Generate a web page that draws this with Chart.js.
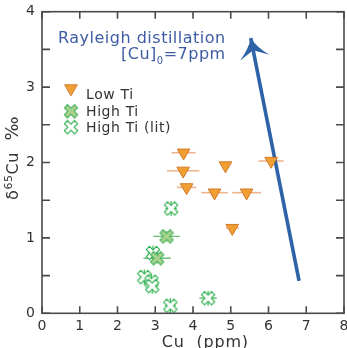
<!DOCTYPE html>
<html>
<head>
<meta charset="utf-8">
<script src="https://cdn.jsdelivr.net/npm/chart.js@4.4.1/dist/chart.umd.min.js"></script>
<style>
  html, body { margin: 0; padding: 0; background: #ffffff; }
  #wrap { position: relative; width: 347px; height: 348px; }
</style>
</head>
<body>
<div id="wrap"><canvas id="chart" width="347" height="348"></canvas></div>
<script>
// Low-Ti basalts: Cu (ppm), δ65Cu (‰) and Cu uncertainty
const lowTiCu     = [3.75, 3.74, 3.83, 4.86, 4.57, 5.42, 6.07, 5.04];
const lowTiD65Cu  = [2.13, 1.89, 1.67, 1.96, 1.60, 1.60, 2.02, 1.13];
const lowTiCuErr  = [0.32, 0.43, 0.26, 0.00, 0.35, 0.38, 0.33, 0.17];

// High-Ti basalts (this study)
const highTiCu    = [3.30, 3.05];
const highTiD65Cu = [1.02, 0.73];
const highTiCuErr = [0.35, 0.36];
const highTiD65Err = [0.07, 0.07];

// High-Ti basalts (literature)
const litCu       = [3.42, 2.94, 2.71, 2.90, 2.92, 3.40, 4.40];
const litD65Cu    = [1.39, 0.80, 0.48, 0.42, 0.36, 0.10, 0.20];
const litCuErr    = [0.15, 0.15, 0.12, 0.12, 0.12, 0.15, 0.23];
const litD65Err   = [0.10, 0.10, 0.10, 0.10, 0.10, 0.10, 0.10];

// Rayleigh distillation trend, [Cu]0 = 7 ppm (start, end)
const rayleighCu    = [6.81, 5.53];
const rayleighD65Cu = [0.43, 3.65];

const seriesNames = ['Low Ti', 'High Ti', 'High Ti (lit)'];
const xAxisTitle = 'Cu  (ppm)';
const trendTitle = 'Rayleigh distillation';

const FONT = '"DejaVu Sans", Verdana, sans-serif';
const INK = '#333333';
const FRAME = '#4a4a4a';
const TREND_BLUE = '#2f63a8';
const TEXT_BLUE = '#3d5ca3';

const toPoints = (xs, ys) => xs.map((x, i) => ({ x: x, y: ys[i] }));

// Thick "X" marker drawn to an offscreen canvas
function crossMarker(fill, stroke) {
  const size = 20, c = document.createElement('canvas');
  c.width = size; c.height = size;
  const g = c.getContext('2d');
  const a = 7.2, w = 2.2;
  g.translate(size / 2, size / 2);
  g.rotate(Math.PI / 4);
  const pts = [[-w,-a],[w,-a],[w,-w],[a,-w],[a,w],[w,w],[w,a],[-w,a],[-w,w],[-a,w],[-a,-w],[-w,-w]];
  g.beginPath();
  pts.forEach((p, i) => i ? g.lineTo(p[0], p[1]) : g.moveTo(p[0], p[1]));
  g.closePath();
  g.fillStyle = fill; g.fill();
  g.lineWidth = 1.1; g.strokeStyle = stroke; g.stroke();
  return c;
}
const highTiMarker = crossMarker('#a9d38f', '#45b05a');
const litMarker = crossMarker('#ffffff', '#2fb050');

// Error bars behind the markers
const errorBars = {
  id: 'errorBars',
  beforeDatasetsDraw(chart) {
    const ctx = chart.ctx, xs = chart.scales.x, ys = chart.scales.y;
    chart.data.datasets.forEach((ds, di) => {
      if (!ds.errorX && !ds.errorY) return;
      const meta = chart.getDatasetMeta(di);
      ctx.save();
      ctx.strokeStyle = ds.errorColor;
      ctx.lineWidth = ds.errorWidth || 1.5;
      ds.data.forEach((p, i) => {
        const px = meta.data[i].x, py = meta.data[i].y;
        ctx.beginPath();
        if (ds.errorX && ds.errorX[i] > 0) {
          ctx.moveTo(xs.getPixelForValue(p.x - ds.errorX[i]), py);
          ctx.lineTo(xs.getPixelForValue(p.x + ds.errorX[i]), py);
        }
        if (ds.errorY && ds.errorY[i] > 0) {
          ctx.moveTo(px, ys.getPixelForValue(p.y - ds.errorY[i]));
          ctx.lineTo(px, ys.getPixelForValue(p.y + ds.errorY[i]));
        }
        ctx.stroke();
      });
      ctx.restore();
    });
  }
};

// Arrowhead at the end of the Rayleigh trend
const arrowHead = {
  id: 'arrowHead',
  afterDatasetsDraw(chart) {
    const idx = chart.data.datasets.findIndex(d => d.isTrend);
    const pts = chart.getDatasetMeta(idx).data;
    const a = pts[pts.length - 2], b = pts[pts.length - 1];
    const dx = b.x - a.x, dy = b.y - a.y, len = Math.hypot(dx, dy);
    const ux = dx / len, uy = dy / len, nx = -uy, ny = ux;
    const P = (back, side) => [b.x - ux * back + nx * side, b.y - uy * back + ny * side];
    const tip = P(0, 0), l = P(20, -15), r = P(20, 15), notch = P(12.5, 0);
    const cl = P(11, -4.5), cr = P(11, 4.5);
    const ctx = chart.ctx;
    ctx.save();
    ctx.fillStyle = TREND_BLUE;
    ctx.beginPath();
    ctx.moveTo(tip[0], tip[1]);
    ctx.quadraticCurveTo(cl[0], cl[1], l[0], l[1]);
    ctx.lineTo(notch[0], notch[1]);
    ctx.lineTo(r[0], r[1]);
    ctx.quadraticCurveTo(cr[0], cr[1], tip[0], tip[1]);
    ctx.closePath();
    ctx.fill();
    ctx.restore();
  }
};

// Draw text runs (with optional size / baseline shift) starting at x along the baseline
function drawRuns(ctx, runs, x, y, spacing) {
  let cx = x;
  runs.forEach(r => {
    ctx.font = r.size + 'px ' + FONT;
    ctx.letterSpacing = (spacing || 0) + 'px';
    ctx.fillText(r.text, cx, y + (r.shift || 0));
    cx += ctx.measureText(r.text).width;
  });
  return cx - x;
}
function runsWidth(ctx, runs, spacing) {
  let w = 0;
  runs.forEach(r => {
    ctx.font = r.size + 'px ' + FONT;
    ctx.letterSpacing = (spacing || 0) + 'px';
    w += ctx.measureText(r.text).width;
  });
  return w;
}

// Frame, inward ticks, x tick labels, legend, titles and the trend label
const decor = {
  id: 'decor',
  afterDraw(chart) {
    const ctx = chart.ctx, area = chart.chartArea;
    const xs = chart.scales.x, ys = chart.scales.y;
    ctx.save();
    ctx.strokeStyle = FRAME;
    ctx.lineWidth = 1.6;
    ctx.beginPath();
    xs.ticks.forEach(t => {
      const px = xs.getPixelForValue(t.value);
      ctx.moveTo(px, area.bottom); ctx.lineTo(px, area.bottom - 7);
      ctx.moveTo(px, area.top); ctx.lineTo(px, area.top + 7);
    });
    ys.ticks.forEach(t => {
      const py = ys.getPixelForValue(t.value);
      ctx.moveTo(area.left, py); ctx.lineTo(area.left + 8, py);
      ctx.moveTo(area.right, py); ctx.lineTo(area.right - 8, py);
    });
    ctx.stroke();
    ctx.strokeRect(area.left, area.top, area.right - area.left, area.bottom - area.top);

    // x tick labels
    ctx.fillStyle = INK;
    ctx.font = '14px ' + FONT;
    ctx.letterSpacing = '0px';
    ctx.textAlign = 'center';
    ctx.textBaseline = 'alphabetic';
    xs.ticks.forEach(t => {
      ctx.fillText(String(t.value), xs.getPixelForValue(t.value), area.bottom + 16.7);
    });

    // legend
    const rows = [
      { ds: 0, mx: 71, my: 88.5, ty: 99 },
      { ds: 1, mx: 71, my: 111.3, ty: 116 },
      { ds: 2, mx: 71, my: 127.2, ty: 132 }
    ];
    ctx.textAlign = 'left';
    rows.forEach(row => {
      const ds = chart.data.datasets[row.ds];
      ctx.fillStyle = ds.backgroundColor || '#fff';
      ctx.strokeStyle = ds.borderColor || '#000';
      ctx.lineWidth = ds.borderWidth || 1;
      Chart.helpers.drawPoint(ctx, {
        pointStyle: ds.pointStyle, rotation: ds.rotation || 0,
        radius: ds.pointRadius, borderWidth: ds.borderWidth || 1
      }, row.mx, row.my);
      ctx.fillStyle = INK;
      drawRuns(ctx, [{ text: ds.label, size: 14 }], 86, row.ty, 0.6);
    });

    // trend label
    ctx.fillStyle = TEXT_BLUE;
    const rightEdge = 225.7;
    const l1 = [{ text: trendTitle, size: 16 }];
    drawRuns(ctx, l1, rightEdge - runsWidth(ctx, l1, 0.5), 43.3, 0.5);
    const l2 = [{ text: '[Cu]', size: 16 }, { text: '0', size: 10, shift: 5 }, { text: '=7ppm', size: 16 }];
    drawRuns(ctx, l2, rightEdge - runsWidth(ctx, l2, 0.5), 59, 0.5);

    // x-axis title
    ctx.fillStyle = INK;
    const xt = [{ text: xAxisTitle, size: 16 }];
    drawRuns(ctx, xt, 205.3 - runsWidth(ctx, xt, 0.8) / 2, 346.5, 0.8);

    // y-axis title
    ctx.translate(18.3, 200);
    ctx.rotate(-Math.PI / 2);
    const yt = [{ text: 'δ', size: 16 }, { text: '65', size: 11, shift: -6 }, { text: 'Cu', size: 16 }, { text: '  ', size: 16 }, { text: '‰', size: 18 }];
    drawRuns(ctx, yt, 0, 0, 0.6);
    ctx.restore();
  }
};

Chart.defaults.font.family = FONT;
Chart.defaults.color = INK;

new Chart(document.getElementById('chart'), {
  type: 'scatter',
  data: {
    datasets: [
      {
        label: seriesNames[0],
        data: toPoints(lowTiCu, lowTiD65Cu),
        errorX: lowTiCuErr,
        errorColor: '#f0b48c',
        errorWidth: 1.6,
        pointStyle: 'triangle',
        rotation: 180,
        pointRadius: 7.3,
        backgroundColor: '#f0a033',
        borderColor: '#d5782c',
        borderWidth: 1
      },
      {
        label: seriesNames[1],
        data: toPoints(highTiCu, highTiD65Cu),
        errorX: highTiCuErr,
        errorY: highTiD65Err,
        errorColor: '#66c07a',
        errorWidth: 1.4,
        pointStyle: highTiMarker,
        pointRadius: 7,
        backgroundColor: '#a9d38f',
        borderColor: '#45b05a'
      },
      {
        label: seriesNames[2],
        data: toPoints(litCu, litD65Cu),
        errorX: litCuErr,
        errorY: litD65Err,
        errorColor: '#3fb55a',
        errorWidth: 1.2,
        pointStyle: litMarker,
        pointRadius: 7,
        backgroundColor: '#ffffff',
        borderColor: '#2fb050'
      },
      {
        label: trendTitle,
        isTrend: true,
        data: toPoints(rayleighCu, rayleighD65Cu),
        showLine: true,
        borderColor: TREND_BLUE,
        borderWidth: 3.6,
        pointRadius: 0,
        pointHoverRadius: 0
      }
    ]
  },
  options: {
    responsive: false,
    animation: false,
    events: [],
    layout: { autoPadding: false, padding: { left: 0, right: 3, top: 11.7, bottom: 0 } },
    plugins: { legend: { display: false }, tooltip: { enabled: false } },
    scales: {
      x: {
        type: 'linear', min: 0, max: 8,
        border: { display: false },
        grid: { display: false, drawTicks: false },
        ticks: { stepSize: 1, display: false },
        afterFit(s) { s.height = 34.7; }
      },
      y: {
        type: 'linear', min: 0, max: 4,
        border: { display: false },
        grid: { display: false, drawTicks: false },
        ticks: {
          stepSize: 0.5, padding: 7, color: INK, font: { size: 14 },
          autoSkip: false,
          callback: v => (Number.isInteger(v) ? String(v) : '')
        },
        afterFit(s) { s.width = 42; s.paddingTop = 0; s.paddingBottom = 0; }
      }
    }
  },
  plugins: [errorBars, arrowHead, decor]
});
</script>
</body>
</html>
